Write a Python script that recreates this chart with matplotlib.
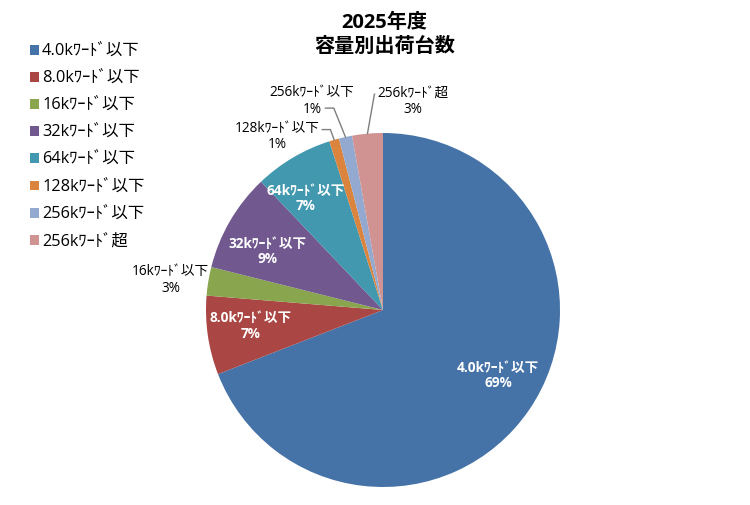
import matplotlib
matplotlib.use("Agg")
import matplotlib.pyplot as plt
import numpy as np

plt.rcParams['font.family'] = ['Open Sans', 'Noto Sans CJK JP', 'DejaVu Sans']

# --- data ---
categories = ["4.0kﾜｰﾄﾞ以下", "8.0kﾜｰﾄﾞ以下", "16kﾜｰﾄﾞ以下", "32kﾜｰﾄﾞ以下",
              "64kﾜｰﾄﾞ以下", "128kﾜｰﾄﾞ以下", "256kﾜｰﾄﾞ以下", "256kﾜｰﾄﾞ超"]
shares = [69.1, 7.2, 2.6, 9.0, 7.2, 0.9, 1.2, 2.8]
title = "2025年度\n容量別出荷台数"

colors = ["#4572A7", "#AA4643", "#89A54E", "#71588F",
          "#4198AF", "#DB843D", "#93A9CF", "#D19392"]

# label placement (axes data units, pie radius = 1)
inside = {0: (0.65, -0.37), 1: (-0.75, -0.09), 3: (-0.65, 0.33), 4: (-0.435, 0.63)}
outside = {2: (-1.20, 0.17), 5: (-0.60, 0.98), 6: (-0.40, 1.18), 7: (0.17, 1.18)}
leader = {5: ((1.0, 0.72), 110), 6: ((0.62, 0.28), 112), 7: ((0.0, 0.72), 80)}

fig = plt.figure(figsize=(7.5, 5.05), dpi=100)
ax = fig.add_axes([206 / 750, 18 / 505, 354 / 750, 354 / 505])

wedges, _ = ax.pie(shares, colors=colors, startangle=90, counterclock=False,
                   radius=1.0, wedgeprops=dict(linewidth=0))
ax.set_xlim(-1, 1)
ax.set_ylim(-1, 1)
ax.set_aspect("equal")

total = sum(shares)
for i, w in enumerate(wedges):
    mid = np.deg2rad((w.theta1 + w.theta2) / 2)
    txt = f"{categories[i]}\n{round(shares[i] / total * 100):.0f}%"
    if i in inside:
        x, y = inside[i]
        ax.text(x, y, txt, ha="center", va="center",
                color="white", fontsize=9.8, fontweight="bold", linespacing=1.15)
    else:
        pos = outside[i]
        if i in leader:
            rel, angB = leader[i]
            ax.annotate(txt, xy=(np.cos(mid), np.sin(mid)), xytext=pos,
                        ha="center", va="center", fontsize=9.8, linespacing=1.15,
                        arrowprops=dict(arrowstyle="-", color="#7f7f7f", lw=1,
                                        patchA=None, shrinkA=2, shrinkB=0, relpos=rel,
                                        connectionstyle=f"angle,angleA=0,angleB={angB},rad=0"))
        else:
            ax.text(pos[0], pos[1], txt, ha="center", va="center",
                    fontsize=9.8, linespacing=1.15)

fig.text(0.513, 0.93, title, ha="center", va="center", fontsize=14.5,
         fontweight="bold", linespacing=1.25)

fig.legend(wedges, categories, loc="upper left", bbox_to_anchor=(0.02, 0.943),
           frameon=False, fontsize=11.8, handlelength=0.55, handleheight=0.55,
           handletextpad=0.2, labelspacing=0.68)

fig.savefig("out.png", dpi=100)
